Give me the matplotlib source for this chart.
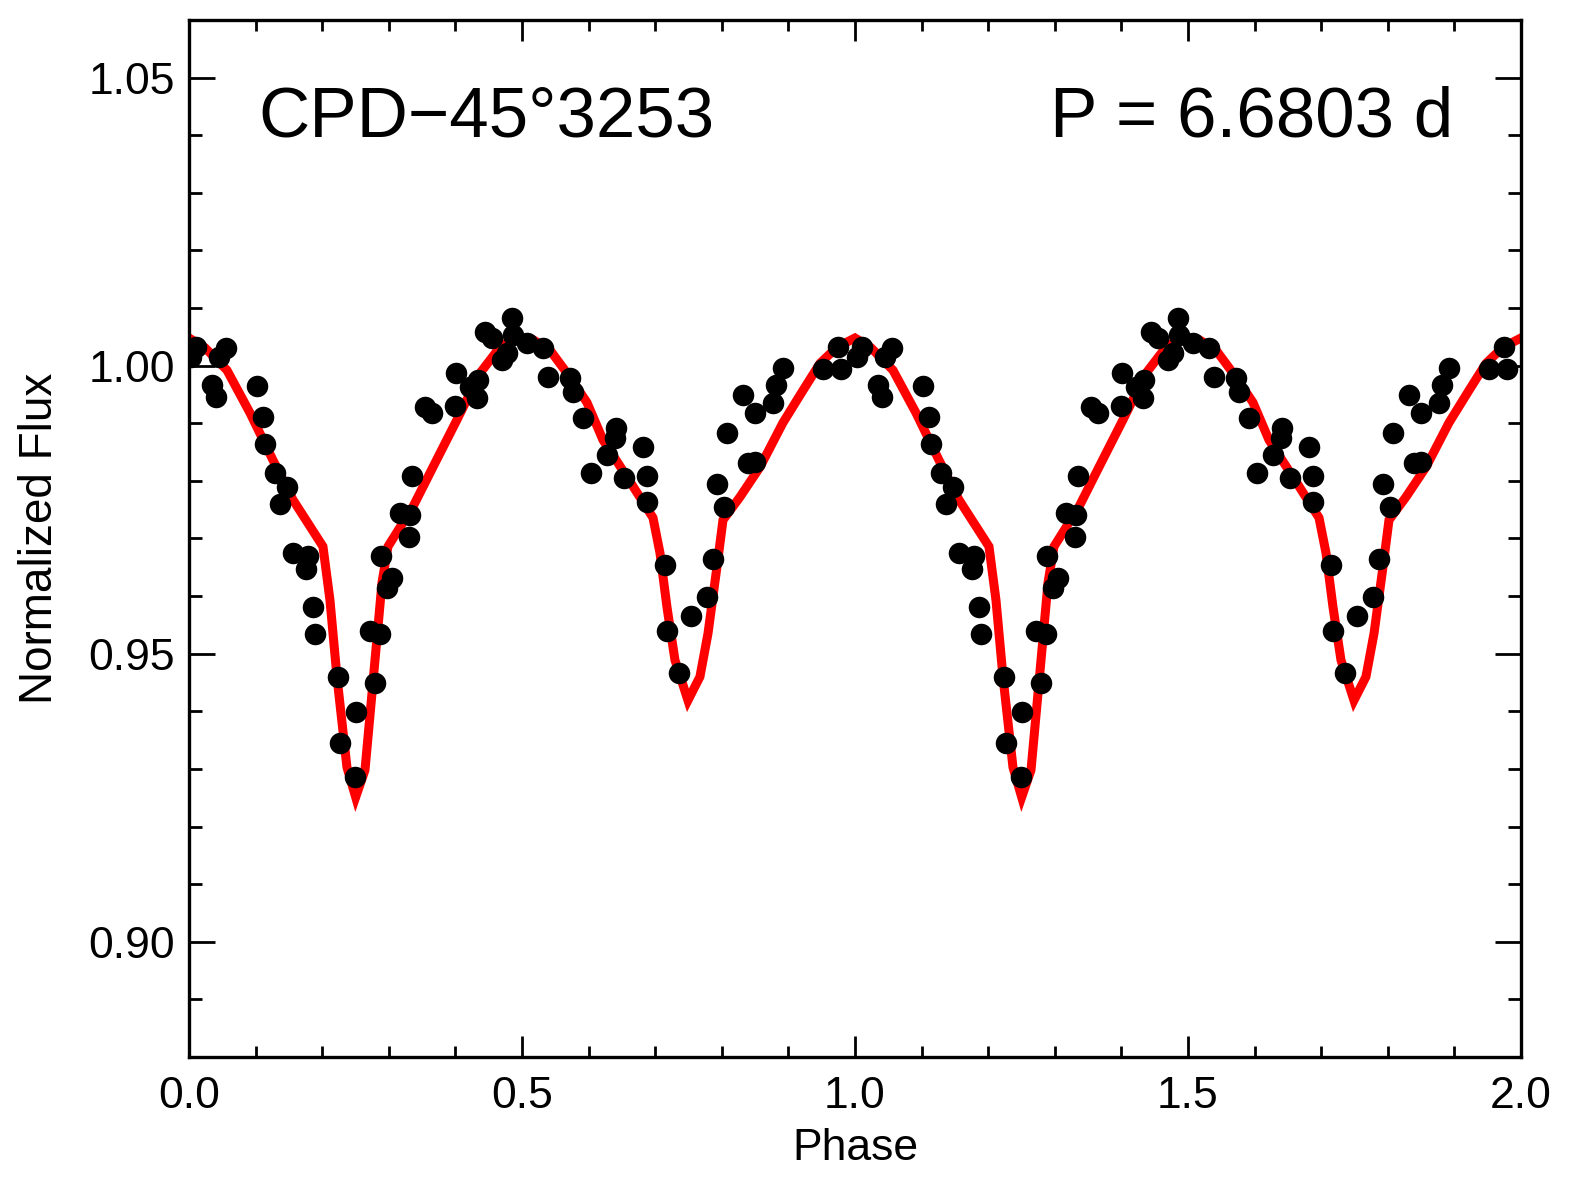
import numpy as np
import matplotlib
matplotlib.use("Agg")
import matplotlib.pyplot as plt
from matplotlib.ticker import MultipleLocator

plt.rcParams['font.family'] = ['Liberation Sans', 'DejaVu Sans']

# observed points, one cycle (phase 0-1), plotted twice
phase = [0.0030, 0.0105, 0.0450, 0.0556, 0.0345, 0.0405, 0.1022, 0.1111, 0.1141, 0.1291,
         0.1471, 0.1367, 0.1562, 0.1786, 0.1757, 0.1862, 0.1892, 0.2237, 0.2267, 0.2508,
         0.2493, 0.2793, 0.2718, 0.2868, 0.2883, 0.3048, 0.2973, 0.3168, 0.3318, 0.3303,
         0.3348, 0.3543, 0.3649, 0.4009, 0.3994, 0.4220, 0.4339, 0.4324, 0.4444, 0.4550,
         0.4850, 0.4865, 0.4700, 0.4775, 0.5075, 0.5315, 0.5390, 0.5721, 0.5765, 0.5916,
         0.6411, 0.6396, 0.6277, 0.6817, 0.6036, 0.6531, 0.6877, 0.6877, 0.7147, 0.7177,
         0.7357, 0.7537, 0.7778, 0.7868, 0.8033, 0.7928, 0.8078, 0.8394, 0.8498, 0.8318,
         0.8498, 0.8769, 0.8813, 0.8919, 0.9520, 0.9745, 0.9790]
flux = [1.0015, 1.0032, 1.0015, 1.0031, 0.9966, 0.9946, 0.9964, 0.9911, 0.9864, 0.9813,
        0.9790, 0.9760, 0.9675, 0.9670, 0.9647, 0.9581, 0.9535, 0.9460, 0.9345, 0.9398,
        0.9286, 0.9449, 0.9539, 0.9535, 0.9670, 0.9632, 0.9614, 0.9744, 0.9741, 0.9702,
        0.9809, 0.9929, 0.9918, 0.9987, 0.9930, 0.9963, 0.9975, 0.9944, 1.0059, 1.0048,
        1.0083, 1.0053, 1.0010, 1.0022, 1.0039, 1.0031, 0.9980, 0.9978, 0.9954, 0.9909,
        0.9892, 0.9874, 0.9845, 0.9859, 0.9813, 0.9805, 0.9809, 0.9763, 0.9654, 0.9539,
        0.9467, 0.9565, 0.9598, 0.9665, 0.9755, 0.9795, 0.9883, 0.9831, 0.9832, 0.9949,
        0.9918, 0.9936, 0.9966, 0.9996, 0.9994, 1.0032, 0.9994]

# model light curve, one cycle
model_phase = [0.0, 0.0241, 0.0571, 0.0916, 0.1261, 0.1562, 0.2012, 0.2117, 0.2222, 0.2372,
               0.2503, 0.2643, 0.2762, 0.2898, 0.2988, 0.3363, 0.3664, 0.4024, 0.4370, 0.4669,
               0.4925, 0.5166, 0.5420, 0.5721, 0.5976, 0.6216, 0.6576, 0.6967, 0.7072, 0.7177,
               0.7297, 0.7492, 0.7672, 0.7793, 0.7928, 0.8018, 0.8273, 0.8574, 0.8919, 0.9219,
               0.9475, 0.9730, 1.0]
model_flux = [1.0048, 1.0031, 0.9992, 0.9918, 0.9836, 0.9767, 0.9686, 0.9593, 0.9460, 0.9303,
              0.9251, 0.9298, 0.9449, 0.9623, 0.9686, 0.9755, 0.9824, 0.9906, 0.9987, 1.0032,
              1.0050, 1.0045, 1.0027, 0.9980, 0.9936, 0.9871, 0.9807, 0.9736, 0.9675, 0.9581,
              0.9489, 0.9419, 0.9460, 0.9535, 0.9651, 0.9732, 0.9772, 0.9824, 0.9901, 0.9957,
              1.0004, 1.0032, 1.0048]

star = "CPD\u221245\u00b03253"
period = "P = 6.6803 d"

ph = np.array(phase)
mph = np.array(model_phase)
ph2 = np.concatenate([ph, ph + 1])
fl2 = np.concatenate([flux, flux])
mph2 = np.concatenate([mph, mph[1:] + 1])
mfl2 = np.concatenate([model_flux, model_flux[1:]])

fig = plt.figure(figsize=(15.76, 11.95), dpi=100)
ax = fig.add_axes([0.1199, 0.1155, 0.8452, 0.8678])

ax.plot(mph2, mfl2, color='#ff0000', lw=6.5, zorder=2, solid_joinstyle='miter')
ax.plot(ph2, fl2, 'o', color='black', ms=15.5, mew=0, zorder=3)

ax.set_xlim(0, 2)
ax.set_ylim(0.88, 1.06)
ax.xaxis.set_major_locator(MultipleLocator(0.5))
ax.xaxis.set_minor_locator(MultipleLocator(0.1))
ax.yaxis.set_major_locator(MultipleLocator(0.05))
ax.yaxis.set_minor_locator(MultipleLocator(0.01))
ax.xaxis.set_major_formatter(plt.FormatStrFormatter('%.1f'))
ax.yaxis.set_major_formatter(plt.FormatStrFormatter('%.2f'))

ax.tick_params(which='both', direction='in', top=True, right=True, width=2, labelsize=32)
ax.tick_params(axis='x', which='major', length=15, pad=14)
ax.tick_params(axis='x', which='minor', length=8)
ax.tick_params(axis='y', which='major', length=19, pad=10)
ax.tick_params(axis='y', which='minor', length=9.5)
for s in ax.spines.values():
    s.set_linewidth(2.4)

ax.set_xlabel("Phase", fontsize=32)
ax.set_ylabel("Normalized Flux", fontsize=33)
ax.xaxis.set_label_coords(0.5, -0.0685)
ax.yaxis.set_label_coords(-0.0953, 0.5)

ax.text(0.052, 0.8872, star, transform=ax.transAxes, fontsize=51, va='baseline', ha='left')
ax.text(0.949, 0.8872, period, transform=ax.transAxes, fontsize=51, va='baseline', ha='right')

fig.savefig("out.png", dpi=100)
